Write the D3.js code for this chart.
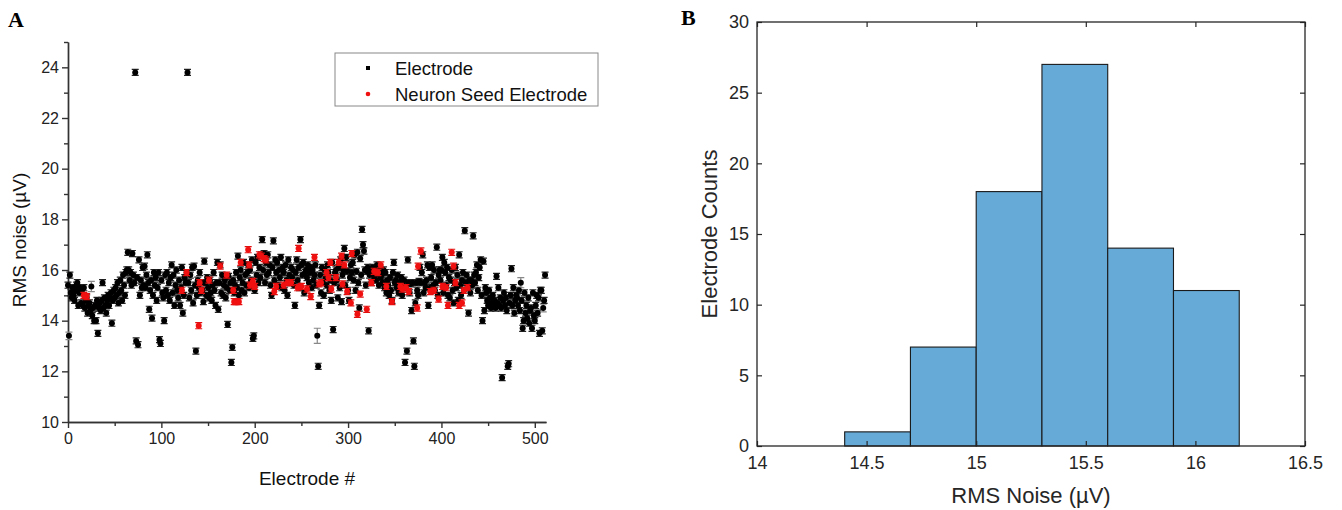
<!DOCTYPE html>
<meta charset="utf-8">
<style>
    body { margin: 0; background: #fff; }
    svg text { font-family: 'Liberation Sans', Arial, sans-serif; }
    .panel-letter { font-family: 'Liberation Serif', 'Times New Roman', serif !important;
                    font-weight: bold; font-size: 22px; fill: #000; }
    .axis-a path, .axis-a line { stroke: #333; stroke-width: 1.4px; }
    .axis-a text { font-size: 16px; fill: #222; }
    .title-a { font-size: 19px; fill: #111; }
    .legend-text { font-size: 18.5px; fill: #111; }
    .axis-b path { stroke: none; }
    .axis-b line { stroke: #262626; stroke-width: 1.2px; }
    .axis-b text { font-size: 18px; fill: #262626; }
    .title-b { font-size: 22px; fill: #262626; }
</style>
<body>
<svg id="fig" width="1342" height="510"></svg>

<script src="https://cdn.jsdelivr.net/npm/d3@7"></script>
<script>
    // RMS noise for every electrode (0..511)
    var rmsNoise = [
        15.4, 13.4, 15.8, 15.1, 14.9, 15.3, 15.0, 14.8, 15.2, 15.4, 15.5, 14.6, 15.1, 15.3, 14.7, 15.2,
        14.6, 15.3, 14.5, 14.8, 14.9, 14.3, 14.6, 14.7, 14.4, 15.35, 14.2, 14.5, 14.0, 14.6, 14.0, 14.8,
        13.5, 14.5, 14.7, 14.4, 14.8, 15.5, 14.5, 14.9, 14.6, 14.3, 14.8, 15.0, 14.6, 14.9, 15.1, 13.9,
        14.8, 15.2, 14.9, 15.3, 15.0, 15.5, 14.7, 15.1, 15.6, 15.2, 14.8, 15.8, 15.4, 15.0, 15.9, 16.0,
        16.7, 16.0, 15.6, 15.9, 15.4, 16.65, 15.8, 15.5, 23.8, 13.2, 15.7, 13.05, 16.4, 15.0, 15.6, 15.3,
        16.1, 15.4, 16.15, 15.3, 15.8, 16.6, 15.5, 14.45, 15.2, 15.6, 14.1, 15.0, 15.9, 15.4, 15.7, 14.8,
        15.3, 15.9, 13.25, 13.1, 15.6, 15.1, 14.9, 14.0, 15.8, 15.2, 15.9, 15.0, 15.5, 14.8, 15.7, 16.2,
        15.1, 15.8, 14.6, 15.4, 16.0, 15.2, 14.9, 15.6, 14.6, 15.3, 16.1, 14.3, 15.0, 15.7, 15.5, 15.9,
        23.8, 15.5, 14.9, 15.8, 15.2, 16.1, 14.7, 16.15, 15.4, 12.8, 15.0, 15.6, 15.3, 15.9, 15.1, 15.5,
        15.2, 14.75, 16.35, 15.5, 15.0, 15.7, 15.3, 14.9, 15.6, 15.1, 14.8, 15.4, 15.9, 15.2, 14.6, 15.5,
        16.3, 14.45, 15.5, 16.2, 15.1, 15.8, 15.0, 15.4, 15.6, 14.9, 15.3, 13.85, 15.75, 15.2, 15.5, 12.35,
        12.95, 15.6, 15.1, 15.4, 15.9, 15.3, 16.55, 15.0, 15.7, 16.0, 15.2, 15.5, 16.3, 15.1, 15.8, 15.4,
        15.9, 16.2, 15.3, 16.0, 15.6, 16.4, 13.3, 13.4, 15.2, 16.3, 15.8, 16.5, 15.5, 16.1, 15.7, 16.6,
        17.2, 16.0, 16.65, 15.5, 16.3, 15.8, 16.6, 15.9, 16.2, 15.4, 15.0, 16.1, 17.15, 15.6, 16.4, 15.9,
        16.3, 15.4, 16.0, 15.7, 16.5, 15.3, 16.1, 15.9, 15.2, 16.2, 15.6, 15.0, 16.4, 15.8, 15.5, 16.1,
        15.7, 16.0, 15.4, 14.6, 15.9, 16.4, 15.6, 16.1, 15.3, 17.2, 16.2, 15.8, 16.3, 15.1, 15.9, 16.0,
        15.7, 16.2, 15.5, 15.9, 16.1, 15.3, 16.0, 15.6, 15.8, 16.2, 15.4, 13.4, 12.2, 14.6, 15.8, 15.1,
        16.1, 15.5, 15.0, 16.0, 15.7, 15.4, 16.2, 15.9, 15.2, 15.6, 14.8, 16.3, 13.65, 15.5, 15.9, 16.0,
        15.6, 14.9, 16.1, 15.3, 16.4, 14.75, 15.8, 16.0, 16.85, 15.4, 16.5, 15.95, 15.2, 14.8, 15.7, 16.2,
        15.9, 16.3, 15.6, 16.6, 15.2, 15.95, 16.7, 15.5, 14.5, 16.45, 15.8, 17.6, 17.0, 16.75, 16.0, 15.4,
        15.95, 16.1, 13.6, 15.8, 16.0, 15.5, 16.1, 15.9, 15.7, 16.0, 15.6, 16.2, 15.85, 15.4, 16.0, 15.7,
        15.8, 15.5, 16.0, 15.3, 15.9, 15.1, 15.6, 15.4, 15.0, 15.7, 15.2, 14.8, 15.9, 16.3, 15.5, 15.6,
        15.3, 15.8, 15.1, 15.5, 15.2, 15.7, 15.0, 15.4, 15.6, 12.35, 15.3, 12.8, 16.4, 15.5, 15.1, 15.45,
        14.4, 15.5, 13.2, 12.2, 14.7, 15.5, 15.2, 15.0, 15.55, 16.1, 15.5, 15.9, 16.6, 15.1, 15.5, 15.3,
        15.6, 16.2, 14.6, 16.1, 15.3, 15.7, 16.2, 15.4, 16.0, 15.2, 15.5, 16.9, 15.0, 15.8, 16.0, 15.6,
        16.0, 16.5, 15.1, 16.3, 15.9, 15.4, 16.1, 15.0, 15.7, 14.9, 15.6, 16.0, 15.2, 14.7, 15.5, 16.1,
        15.3, 15.8, 14.8, 16.6, 15.4, 15.0, 15.6, 15.9, 15.2, 17.55, 15.5, 15.8, 15.3, 14.3, 15.6, 15.1,
        15.6, 15.4, 17.35, 15.8, 15.5, 15.9, 16.2, 15.2, 15.7, 16.1, 16.4, 15.0, 14.0, 16.35, 14.4, 15.3,
        15.1, 14.8, 14.6, 15.2, 14.9, 14.5, 14.7, 15.0, 14.6, 14.8, 14.5, 15.75, 14.7, 15.3, 14.6, 14.9,
        14.5, 11.75, 14.8, 15.1, 14.6, 14.9, 14.4, 12.2, 12.3, 14.7, 15.0, 16.05, 14.6, 15.3, 14.3, 14.8,
        15.0, 14.9, 14.6, 15.2, 14.4, 15.5, 14.8, 13.7, 14.0, 15.1, 14.3, 14.6, 14.1, 14.9, 13.9, 14.4,
        14.5, 13.7, 15.1, 14.2, 14.0, 14.6, 15.0, 14.3, 14.9, 13.5, 15.2, 15.2, 13.6, 14.5, 14.8, 15.8
    ];
    var defaultError = 0.12;
    // electrodes whose error bar is clearly longer than the rest
    var wideErrorIdx = [1, 25, 267, 485, 509];
    var wideErrorVal = [0.15, 0.2, 0.3, 0.2, 0.15];

    // neuron seed electrodes (red)
    var seedIdx = [17, 20, 122, 127, 140, 141, 143, 151, 163, 170, 177, 178, 180, 183, 185, 193,
                   194, 195, 198, 200, 205, 207, 210, 212, 221, 223, 231, 235, 239, 246, 247, 250,
                   256, 260, 264, 269, 271, 277, 279, 281, 282, 287, 290, 293, 294, 296, 299, 303,
                   304, 310, 313, 320, 325, 328, 332, 335, 341, 347, 356, 358, 362, 365, 374, 375,
                   378, 388, 392, 397, 401, 405, 407, 411, 413, 415, 419, 422, 424, 428];
    var seedNoise = [15.0, 14.95, 15.2, 15.9, 13.8, 15.5, 15.2, 15.6, 16.15, 15.8, 15.2, 14.75, 14.75, 14.75, 16.3, 16.8,
                     16.2, 15.4, 15.55, 15.35, 16.6, 16.55, 16.45, 16.4, 15.15, 15.35, 15.4, 15.5, 15.5, 15.3, 16.85, 15.35,
                     15.25, 14.95, 16.5, 15.45, 15.5, 15.9, 15.7, 16.3, 15.25, 15.7, 16.3, 16.55, 15.45, 16.2, 15.15, 14.7,
                     16.65, 14.25, 15.05, 14.45, 15.5, 15.95, 15.9, 16.2, 15.35, 14.75, 15.35, 15.25, 15.3, 15.15, 14.5, 16.15,
                     16.75, 15.15, 15.2, 14.85, 15.35, 15.3, 14.6, 16.7, 16.15, 15.5, 14.6, 14.7, 15.2, 15.3];

    // panel B histogram
    var binEdges = [14.4, 14.7, 15.0, 15.3, 15.6, 15.9, 16.2];
    var binCounts = [1, 7, 18, 27, 14, 11];

    var xTicksA = [0, 100, 200, 300, 400, 500],
        xMinorA = [50, 150, 250, 350, 450],
        yTicksA = [10, 12, 14, 16, 18, 20, 22, 24],
        yMinorA = [11, 13, 15, 17, 19, 21, 23, 25];
    var xTicksB = [14, 14.5, 15, 15.5, 16, 16.5],
        yTicksB = [0, 5, 10, 15, 20, 25, 30];

    var svg = d3.select("#fig");

    // ---------------- panel A ----------------
    var aLeft = 68, aRight = 546, aTop = 42, aBottom = 422;

    var xA = d3.scaleLinear().domain([0, 512]).range([aLeft, aRight]);
    var yA = d3.scaleLinear().domain([10, 25]).range([aBottom, aTop]);

    svg.append("text").attr("class", "panel-letter")
        .attr("x", 8).attr("y", 27).text("A");

    svg.append("g").attr("class", "axis-a")
        .attr("transform", "translate(0," + aBottom + ")")
        .call(d3.axisBottom(xA).tickValues(xMinorA).tickSize(4).tickSizeOuter(0).tickFormat(""));
    svg.append("g").attr("class", "axis-a")
        .attr("transform", "translate(0," + aBottom + ")")
        .call(d3.axisBottom(xA).tickValues(xTicksA).tickSize(6).tickSizeOuter(0).tickPadding(5));

    svg.append("g").attr("class", "axis-a")
        .attr("transform", "translate(" + aLeft + ",0)")
        .call(d3.axisLeft(yA).tickValues(yMinorA).tickSize(4).tickSizeOuter(0).tickFormat(""));
    svg.append("g").attr("class", "axis-a")
        .attr("transform", "translate(" + aLeft + ",0)")
        .call(d3.axisLeft(yA).tickValues(yTicksA).tickSize(6).tickSizeOuter(0).tickPadding(3));

    svg.append("text").attr("class", "title-a")
        .attr("transform", "translate(26," + ((aTop + aBottom) / 2 + 8) + ") rotate(-90)")
        .attr("text-anchor", "middle")
        .text("RMS noise (\u00b5V)");
    svg.append("text").attr("class", "title-a")
        .attr("x", 307).attr("y", 485)
        .attr("text-anchor", "middle")
        .text("Electrode #");

    var electrodes = rmsNoise.map(function(v, i) {
        var k = wideErrorIdx.indexOf(i);
        return {idx: i, v: v, err: k >= 0 ? wideErrorVal[k] : defaultError, wide: k >= 0};
    });
    var seeds = seedIdx.map(function(e, i) { return {idx: e, v: seedNoise[i], err: defaultError}; });

    function errorBars(data, color) {
        var g = svg.append("g");
        g.selectAll("path")
            .data(data)
            .enter().append("path")
            .attr("d", function(d) {
                var x = xA(d.idx), y0 = yA(d.v - d.err), y1 = yA(d.v + d.err);
                return "M" + x + "," + y0 + "V" + y1 +
                       "M" + (x - 3.5) + "," + y0 + "H" + (x + 3.5) +
                       "M" + (x - 3.5) + "," + y1 + "H" + (x + 3.5);
            })
            .attr("fill", "none")
            .attr("stroke", function(d) { return d.wide ? "#888" : color; })
            .attr("stroke-width", 1.2);
    }

    errorBars(electrodes, "#222");
    svg.append("g").selectAll("circle")
        .data(electrodes)
        .enter().append("circle")
        .attr("cx", d => xA(d.idx))
        .attr("cy", d => yA(d.v))
        .attr("r", 3)
        .attr("fill", "#000");

    errorBars(seeds, "#e01010");
    svg.append("g").selectAll("circle")
        .data(seeds)
        .enter().append("circle")
        .attr("cx", d => xA(d.idx))
        .attr("cy", d => yA(d.v))
        .attr("r", 3)
        .attr("fill", "#f01010");

    // legend
    var legend = svg.append("g").attr("transform", "translate(335,53)");
    legend.append("rect")
        .attr("width", 263).attr("height", 53)
        .attr("fill", "#fff").attr("stroke", "#888").attr("stroke-width", 1);
    legend.append("rect")
        .attr("x", 31).attr("y", 13).attr("width", 4).attr("height", 4).attr("fill", "#000");
    legend.append("circle")
        .attr("cx", 33).attr("cy", 41).attr("r", 2.3).attr("fill", "#f01010");
    legend.append("text").attr("class", "legend-text")
        .attr("x", 60).attr("y", 22).text("Electrode");
    legend.append("text").attr("class", "legend-text")
        .attr("x", 60).attr("y", 48).text("Neuron Seed Electrode");

    // ---------------- panel B ----------------
    var bLeft = 757, bRight = 1305, bTop = 22, bBottom = 446;

    var xB = d3.scaleLinear().domain([14, 16.5]).range([bLeft, bRight]);
    var yB = d3.scaleLinear().domain([0, 30]).range([bBottom, bTop]);

    svg.append("text").attr("class", "panel-letter")
        .attr("x", 681).attr("y", 25).text("B");

    var bins = binCounts.map(function(c, i) { return {x0: binEdges[i], x1: binEdges[i + 1], n: c}; });

    svg.append("g").selectAll("rect")
        .data(bins)
        .enter().append("rect")
        .attr("x", d => xB(d.x0))
        .attr("y", d => yB(d.n))
        .attr("width", d => xB(d.x1) - xB(d.x0))
        .attr("height", d => yB(0) - yB(d.n))
        .attr("fill", "#66aad7")
        .attr("stroke", "#1a1a1a")
        .attr("stroke-width", 1.1);

    svg.append("g").attr("class", "axis-b")
        .attr("transform", "translate(0," + bBottom + ")")
        .call(d3.axisBottom(xB).tickValues(xTicksB).tickSize(-5).tickSizeOuter(0).tickPadding(10)
              .tickFormat(d3.format("")));
    svg.append("g").attr("class", "axis-b")
        .attr("transform", "translate(0," + bTop + ")")
        .call(d3.axisTop(xB).tickValues(xTicksB).tickSize(-5).tickSizeOuter(0).tickFormat(""));
    svg.append("g").attr("class", "axis-b")
        .attr("transform", "translate(" + bLeft + ",0)")
        .call(d3.axisLeft(yB).tickValues(yTicksB).tickSize(-5).tickSizeOuter(0).tickPadding(8));
    svg.append("g").attr("class", "axis-b")
        .attr("transform", "translate(" + bRight + ",0)")
        .call(d3.axisRight(yB).tickValues(yTicksB).tickSize(-5).tickSizeOuter(0).tickFormat(""));

    svg.append("rect")
        .attr("x", bLeft).attr("y", bTop)
        .attr("width", bRight - bLeft).attr("height", bBottom - bTop)
        .attr("fill", "none").attr("stroke", "#262626").attr("stroke-width", 1.3);

    svg.append("text").attr("class", "title-b")
        .attr("transform", "translate(717," + ((bTop + bBottom) / 2) + ") rotate(-90)")
        .attr("text-anchor", "middle")
        .text("Electrode Counts");
    svg.append("text").attr("class", "title-b")
        .attr("x", (bLeft + bRight) / 2).attr("y", 503)
        .attr("text-anchor", "middle")
        .text("RMS Noise (\u00b5V)");
</script>
</body>
